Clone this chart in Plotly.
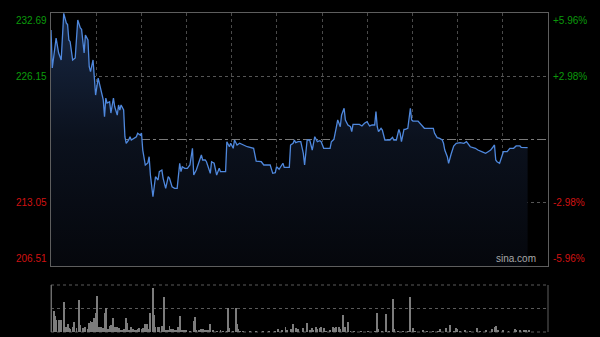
import plotly.graph_objects as go

# ---- data ----
minutes = [0, 1, 4, 6, 8, 10, 12, 13, 14, 15, 17, 19, 21, 23, 24, 26, 27, 29, 30, 31,
           33, 34, 35, 37, 38, 41, 42, 43, 44, 46, 47, 49, 50, 52, 53, 54, 55, 57, 58, 59,
           61, 62, 63, 66, 67, 68, 70, 71, 72, 74, 76, 77, 78, 80, 82, 84, 85, 87, 88, 90,
           92, 93, 95, 97, 99, 101, 102, 103, 105, 107, 109, 111, 112, 114, 116, 118, 119, 121, 122, 125,
           126, 128, 130, 132, 133, 137, 138, 140, 141, 143, 144, 146, 148, 151, 154, 159, 161, 165, 167, 172,
           174, 176, 177, 179, 182, 183, 187, 188, 190, 191, 192, 194, 196, 198, 199, 201, 203, 204, 205, 207,
           209, 211, 212, 214, 219, 220, 222, 224, 225, 227, 228, 230, 231, 233, 235, 236, 237, 242, 244, 246,
           248, 250, 252, 254, 255, 256, 257, 259, 260, 262, 266, 268, 269, 271, 273, 274, 275, 277, 278, 280,
           282, 283, 284, 288, 290, 292, 293, 300, 301, 303, 305, 307, 308, 309, 311, 312, 313, 314, 316, 318,
           321, 324, 326, 329, 333, 335, 338, 341, 343, 345, 347, 348, 349, 350, 352, 354, 355, 358, 360, 363,
           365, 368, 369, 374]
prices = [230.93, 227.00, 230.10, 228.55, 227.83, 232.65, 231.66, 231.50, 229.90, 229.72, 227.83, 228.03, 231.97, 231.14, 231.00, 228.55, 230.41, 229.90, 227.13, 226.62,
          227.83, 225.76, 224.20, 225.96, 225.45, 223.69, 221.96, 223.89, 223.38, 223.51, 222.34, 223.89, 222.99, 222.13, 223.17, 222.65, 223.17, 222.65, 219.89, 219.21,
          219.55, 219.89, 219.55, 219.75, 219.89, 220.24, 220.06, 220.27, 218.51, 216.96, 217.17, 217.82, 215.92, 213.68, 215.75, 215.41, 216.27, 216.44, 215.58, 214.55,
          215.75, 215.58, 214.71, 214.55, 214.55, 217.14, 216.27, 216.78, 216.62, 216.62, 216.96, 218.69, 215.92, 216.44, 217.30, 218.00, 217.48, 217.48, 217.30, 216.10,
          217.30, 217.14, 215.92, 216.62, 216.27, 216.27, 219.37, 218.85, 219.21, 218.69, 219.55, 219.03, 219.21, 219.03, 218.85, 218.69, 217.37, 217.30, 216.96, 216.96,
          216.10, 216.16, 216.78, 216.52, 217.14, 216.72, 216.72, 219.03, 219.21, 219.55, 219.27, 219.37, 219.37, 218.17, 216.96, 219.55, 219.55, 219.03, 218.51, 219.89,
          219.37, 219.47, 219.37, 218.69, 218.69, 219.37, 219.62, 220.92, 221.62, 220.92, 222.13, 222.83, 221.62, 221.10, 220.92, 220.41, 221.17, 221.17, 221.00, 221.28,
          221.44, 221.00, 221.10, 221.10, 222.48, 220.92, 220.41, 220.76, 220.58, 219.55, 219.55, 219.83, 219.55, 219.55, 220.65, 220.24, 219.37, 220.65, 220.65, 220.76,
          222.83, 221.62, 221.51, 221.51, 221.17, 220.92, 220.76, 220.76, 220.24, 219.79, 219.72, 219.55, 219.21, 218.51, 217.82, 217.14, 217.69, 218.10, 218.93, 219.21,
          219.27, 219.21, 219.37, 218.85, 218.69, 218.51, 218.34, 218.17, 218.34, 218.51, 218.85, 219.03, 217.48, 217.30, 217.14, 218.00, 218.34, 218.34, 218.69, 218.69,
          218.93, 218.93, 218.79, 218.75]

vol_minutes = [0, 2, 3, 4, 6, 7, 8, 10, 12, 13, 14, 15, 17, 18, 20, 22, 23, 25, 26, 27,
               29, 30, 31, 32, 34, 35, 36, 37, 38, 39, 41, 42, 43, 45, 46, 47, 49, 50, 52, 53,
               54, 56, 57, 59, 60, 61, 63, 64, 65, 67, 68, 69, 71, 72, 74, 75, 77, 78, 80, 81,
               82, 84, 85, 87, 88, 89, 90, 92, 93, 94, 96, 97, 99, 100, 101, 103, 104, 106, 109, 112,
               113, 114, 116, 118, 119, 120, 122, 123, 125, 127, 130, 133, 135, 138, 139, 140, 143, 145, 146, 147,
               148, 151, 156, 161, 166, 171, 176, 178, 181, 184, 185, 188, 190, 192, 194, 198, 201, 203, 205, 206,
               208, 209, 211, 212, 214, 216, 219, 221, 222, 224, 226, 227, 229, 231, 233, 235, 238, 243, 249, 254,
               256, 257, 260, 263, 265, 268, 269, 272, 276, 280, 282, 284, 286, 292, 295, 300, 304, 305, 310, 313,
               316, 318, 319, 321, 325, 329, 334, 337, 341, 346, 348, 349, 351, 355, 359, 364, 365, 368, 371, 373,
               375]
volumes = [100, 45, 34, 26, 26, 11, 26, 64, 11, 17, 8, 6, 11, 22, 8, 68, 15, 8, 4, 10,
           6, 20, 24, 22, 29, 40, 77, 8, 11, 10, 8, 40, 50, 6, 13, 15, 29, 10, 11, 8,
           4, 3, 6, 29, 20, 4, 10, 6, 4, 3, 6, 8, 6, 8, 18, 18, 6, 40, 93, 36,
           10, 11, 10, 13, 6, 74, 4, 4, 13, 7, 6, 3, 4, 10, 34, 4, 3, 3, 2, 24,
           31, 4, 3, 7, 6, 4, 3, 3, 17, 3, 2, 3, 1.5, 1.5, 50, 8, 2, 50, 17, 6,
           2, 1.5, 1.5, 1.5, 1.5, 1.5, 1.5, 6, 3, 11, 3, 6, 17, 8, 6, 8, 20, 3, 8, 4,
           10, 7, 8, 10, 8, 2, 3, 10, 8, 10, 11, 6, 36, 10, 22, 2, 2, 2, 2, 2,
           41, 6, 2, 38, 2, 70, 6, 2, 2, 2, 75, 8, 2, 4, 2, 2, 2, 6, 8, 15,
           2, 8, 6, 2, 4, 2, 8, 2, 3, 6, 10, 13, 3, 4, 2, 6, 4, 3, 4, 4,
           3]

prev_close = 219.60
price_levels = [232.69, 226.15, 213.05, 206.51]
price_labels = ["232.69", "226.15", "213.05", "206.51"]
pct_labels = ["+5.96%", "+2.98%", "-2.98%", "-5.96%"]
session_len = 390
n_divisions = 11
vol_max = 100

FONT = "Arial, Liberation Sans, sans-serif"
GREEN = "#0b9a0b"
RED = "#d01212"
BORDER = "#5e5e5e"
GRID = "#4a4a4a"

fig = go.Figure()

fig.add_trace(go.Scatter(
    x=minutes, y=prices, mode="lines",
    line=dict(color="#4f88dd", width=1.3),
    fill="tozeroy",
    fillgradient=dict(type="vertical",
                      colorscale=[[0, "rgb(5,7,12)"], [0.5, "rgb(11,17,29)"], [1, "rgb(24,40,68)"]],
                      start=min(price_levels), stop=max(price_levels)),
    xaxis="x", yaxis="y", hoverinfo="skip"))

fig.add_trace(go.Bar(
    x=vol_minutes, y=volumes, width=0.75,
    marker=dict(color="#7c7c7c", line=dict(width=0)),
    xaxis="x2", yaxis="y2", hoverinfo="skip"))

fig.update_layout(
    width=600, height=337,
    margin=dict(l=51, r=52, t=13, b=5),
    paper_bgcolor="black", plot_bgcolor="black",
    showlegend=False, bargap=0,
    xaxis=dict(domain=[0, 1], range=[0, session_len], anchor="y",
               tickmode="linear", tick0=0, dtick=session_len / n_divisions,
               showticklabels=False, ticks="",
               showgrid=True, gridcolor=GRID, griddash="dot", gridwidth=1,
               showline=True, linecolor=BORDER, linewidth=1, mirror=True, zeroline=False),
    yaxis=dict(domain=[0.2069, 1], range=[min(price_levels), max(price_levels)], anchor="x",
               tickvals=[price_levels[1], price_levels[2]], showticklabels=False, ticks="",
               showgrid=True, gridcolor="#555555", griddash="dot", gridwidth=1,
               showline=True, linecolor=BORDER, linewidth=1, mirror=True, zeroline=False),
    xaxis2=dict(domain=[0, 1], range=[0, session_len], anchor="y2",
                showticklabels=False, ticks="", showgrid=False, zeroline=False, showline=False),
    yaxis2=dict(domain=[0, 0.1473], range=[0, vol_max], anchor="x2",
                showticklabels=False, ticks="", showgrid=False, zeroline=False, showline=False),
)

shapes = []
# previous close dash-dot line
shapes.append(dict(type="line", xref="x domain", yref="y", x0=0, x1=1, y0=prev_close, y1=prev_close,
                   line=dict(color="#7a7a7a", width=1, dash="dashdot"), layer="below"))
# volume panel frame
for yy in [0, 0.5, 1]:
    shapes.append(dict(type="line", xref="x2 domain", yref="y2 domain", x0=0, x1=1, y0=yy, y1=yy,
                       line=dict(color="#5a5a5a", width=1, dash="dot"), layer="below"))
for xx in [0, 1]:
    shapes.append(dict(type="line", xref="x2 domain", yref="y2 domain", x0=xx, x1=xx, y0=0, y1=1,
                       line=dict(color=BORDER, width=1)))
fig.update_layout(shapes=shapes)

annotations = []
top, bottom = max(price_levels), min(price_levels)
for v, lab, pct in zip(price_levels, price_labels, pct_labels):
    color = GREEN if v > prev_close else RED
    yanchor = "top" if v == top else ("bottom" if v == bottom else "middle")
    annotations.append(dict(xref="paper", x=0, xanchor="right", xshift=-2, yref="y", y=v, yanchor=yanchor,
                            text=lab, showarrow=False, font=dict(family=FONT, size=10, color=color)))
    annotations.append(dict(xref="paper", x=1, xanchor="left", xshift=3, yref="y", y=v, yanchor=yanchor,
                            text=pct, showarrow=False, font=dict(family=FONT, size=10, color=color)))
annotations.append(dict(xref="x domain", x=1, xanchor="right", xshift=-10, yref="y domain", y=0, yanchor="bottom",
                        text="sina.com", showarrow=False, font=dict(family=FONT, size=10, color="#a8a8a8")))
fig.update_layout(annotations=annotations)

fig.write_html("out.html")
